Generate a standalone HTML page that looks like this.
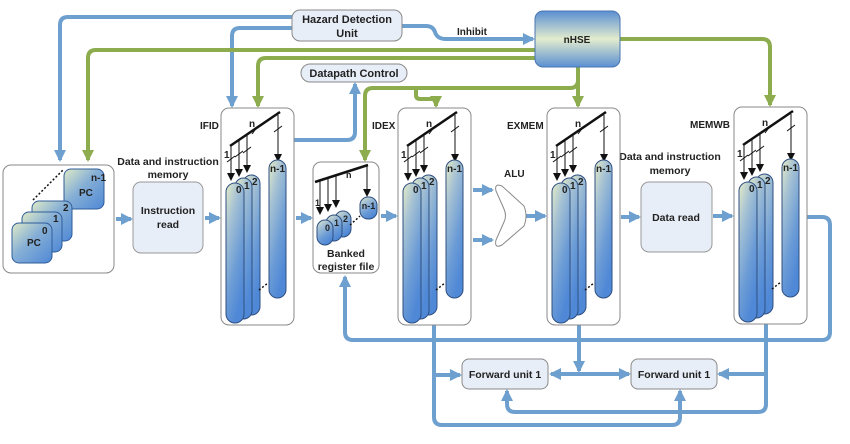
<!DOCTYPE html>
<html><head><meta charset="utf-8"><style>html,body{margin:0;padding:0;background:#fff}svg{display:block}text{font-family:"Liberation Sans",sans-serif;font-weight:bold;fill:#222}</style></head>
<body>
<svg width="850" height="444" viewBox="0 0 850 444" xmlns="http://www.w3.org/2000/svg">
<defs>
<linearGradient id="cyl" x1="0" y1="0" x2="0.5" y2="1"><stop offset="0" stop-color="#e6edc6"/><stop offset="0.3" stop-color="#a8c3d3"/><stop offset="0.7" stop-color="#6c9cd6"/><stop offset="1" stop-color="#4f88d6"/></linearGradient>
<linearGradient id="card" x1="0" y1="0" x2="1" y2="1"><stop offset="0" stop-color="#e0eac6"/><stop offset="0.45" stop-color="#86afd6"/><stop offset="1" stop-color="#4f88d6"/></linearGradient>
<linearGradient id="hse" x1="0" y1="0" x2="0" y2="1"><stop offset="0" stop-color="#5a8fd2"/><stop offset="0.5" stop-color="#e3ecce"/><stop offset="1" stop-color="#5a8fd2"/></linearGradient>
<marker id="ab" markerUnits="userSpaceOnUse" markerWidth="14" markerHeight="14" refX="10" refY="6" orient="auto"><path d="M0,0 L12,6 L0,12 Z" fill="#6ea0cf"/></marker>
<marker id="abs" markerUnits="userSpaceOnUse" markerWidth="14" markerHeight="14" refX="2" refY="6" orient="auto"><path d="M12,0 L0,6 L12,12 Z" fill="#6ea0cf"/></marker>
<marker id="ag" markerUnits="userSpaceOnUse" markerWidth="14" markerHeight="14" refX="10" refY="6" orient="auto"><path d="M0,0 L12,6 L0,12 Z" fill="#8cac4e"/></marker>
<marker id="ak" markerUnits="userSpaceOnUse" markerWidth="10" markerHeight="10" refX="7" refY="4" orient="auto"><path d="M0,0 L8,4 L0,8 Z" fill="#111"/></marker>
</defs>

<g fill="none" stroke-width="4" stroke-linejoin="round">
<g stroke="#6ea0cf">
<path d="M292,17 H68 Q60,17 60,25 V160" marker-end="url(#ab)"/>
<path d="M292,28 H240 Q232,28 232,36 V106" marker-end="url(#ab)"/>
<path d="M402,26 H426 Q433,26 435,32 Q437,39 446,39 H533" marker-end="url(#ab)"/>
<path d="M294,140 H347 Q355,140 355,132 V84" marker-end="url(#ab)"/>
<path d="M116,219 H131" marker-end="url(#ab)"/>
<path d="M205,218 H219" marker-end="url(#ab)"/>
<path d="M296,218 H311" marker-end="url(#ab)"/>
<path d="M381,216 H396" marker-end="url(#ab)"/>
<path d="M473,190 H492" marker-end="url(#ab)"/>
<path d="M473,240 H492" marker-end="url(#ab)"/>
<path d="M526,216 H545" marker-end="url(#ab)"/>
<path d="M621,217 H639" marker-end="url(#ab)"/>
<path d="M713,216 H732" marker-end="url(#ab)"/>
<path d="M807,217 H822 Q830,217 830,225 V332 Q830,340 822,340 H353 Q345,340 345,332 V277" marker-end="url(#ab)"/>
<path d="M434,325 V417 Q434,425 442,425 H672 Q680,425 680,417 V391" marker-end="url(#ab)"/>
<path d="M434,375 H460" marker-end="url(#ab)"/>
<path d="M579,325 V371" marker-end="url(#ab)"/>
<path d="M551,374 H629" marker-start="url(#abs)" marker-end="url(#ab)"/>
<path d="M766,323 V404 Q766,412 758,412 H515 Q507,412 507,404 V391" marker-end="url(#ab)"/>
<path d="M766,374 H719" marker-end="url(#ab)"/>
</g>
<g stroke="#8cac4e">
<path d="M535,50 H96 Q88,50 88,58 V160" marker-end="url(#ag)"/>
<path d="M535,58 H266 Q258,58 258,66 V106" marker-end="url(#ag)"/>
<path d="M578,67 V106" marker-end="url(#ag)"/>
<path d="M578,80 Q578,88 570,88 H373 Q365,88 365,96 V160" marker-end="url(#ag)"/>
<path d="M416,88 V95 Q416,99 420,99 H436 V106" marker-end="url(#ag)"/>
<path d="M620,39 H762 Q770,39 770,47 V105" marker-end="url(#ag)"/>
</g>
</g>

<rect x="292" y="10" width="110" height="31" rx="8" fill="#e8eef8" stroke="#888"/>
<text x="347" y="23" font-size="11" text-anchor="middle">Hazard Detection</text>
<text x="347" y="37" font-size="11" text-anchor="middle">Unit</text>
<text x="472" y="35" font-size="10" text-anchor="middle">Inhibit</text>
<rect x="301" y="64" width="106" height="18" rx="9" fill="#e8eef8" stroke="#888"/>
<text x="354" y="77" font-size="11" text-anchor="middle">Datapath Control</text>
<rect x="535" y="11" width="85" height="56" rx="8" fill="url(#hse)" stroke="#4a76b0"/>
<text x="577" y="43" font-size="10" text-anchor="middle">nHSE</text>

<rect x="3" y="165" width="111" height="108" rx="8" fill="#fff" stroke="#888"/>
<line x1="33" y1="200" x2="63" y2="170" stroke="#111" stroke-width="1.5" stroke-dasharray="2,2"/>
<rect x="64" y="169" width="40" height="40" rx="7" fill="url(#card)" stroke="#2f5d99"/>
<rect x="32" y="201" width="40" height="40" rx="7" fill="url(#card)" stroke="#2f5d99"/>
<rect x="22" y="212" width="40" height="40" rx="7" fill="url(#card)" stroke="#2f5d99"/>
<rect x="12" y="223" width="40" height="40" rx="7" fill="url(#card)" stroke="#2f5d99"/>
<text x="91" y="181" font-size="10">n-1</text><text x="79" y="196" font-size="10">PC</text>
<text x="63" y="211" font-size="10">2</text><text x="53" y="222" font-size="10">1</text>
<text x="42" y="234" font-size="10">0</text><text x="27" y="246" font-size="10">PC</text>

<text x="168" y="165" font-size="10.5" text-anchor="middle">Data and instruction</text>
<text x="168" y="178" font-size="10.5" text-anchor="middle">memory</text>
<rect x="133" y="182" width="70" height="71" rx="8" fill="#e8eef8" stroke="#999"/>
<text x="168" y="214" font-size="10.5" text-anchor="middle">Instruction</text>
<text x="168" y="228" font-size="10.5" text-anchor="middle">read</text>

<text x="670" y="160" font-size="10.5" text-anchor="middle">Data and instruction</text>
<text x="670" y="174" font-size="10.5" text-anchor="middle">memory</text>
<rect x="641" y="182" width="71" height="70" rx="8" fill="#e8eef8" stroke="#999"/>
<text x="676" y="221" font-size="10.5" text-anchor="middle">Data read</text>

<text x="200" y="129" font-size="10">IFID</text>
<text x="372" y="129" font-size="10">IDEX</text>
<text x="507" y="129" font-size="10">EXMEM</text>
<text x="690" y="128" font-size="10">MEMWB</text>
<text x="504" y="177" font-size="10">ALU</text>

<path d="M496,191 Q494,183 502,186 L524,206 Q528,216 524,226 L502,245 Q494,249 496,240 L504,222 Q507,216 504,209 Z" fill="#fff" stroke="#888"/>

<g>
<rect x="221" y="108" width="73" height="217" rx="8" fill="#fff" stroke="#888"/>
<line x1="230" y1="146" x2="280" y2="112" stroke="#111" stroke-width="2.5"/>
<g stroke="#111" stroke-width="1">
<line x1="231" y1="145" x2="231" y2="180" marker-end="url(#ak)"/>
<line x1="239" y1="140" x2="239" y2="176" marker-end="url(#ak)"/>
<line x1="247" y1="134" x2="247" y2="172" marker-end="url(#ak)"/>
<line x1="278" y1="115" x2="278" y2="161" marker-end="url(#ak)"/>
<line x1="227" y1="162" x2="235" y2="156"/><line x1="235" y1="157" x2="243" y2="151"/><line x1="243" y1="153" x2="251" y2="147"/><line x1="274" y1="132" x2="282" y2="126"/><line x1="252" y1="134" x2="258" y2="126"/>
</g>
<rect x="243" y="175" width="17" height="140" rx="8.5" fill="url(#cyl)" stroke="#2f4f80"/>
<rect x="235" y="178" width="17" height="141" rx="8.5" fill="url(#cyl)" stroke="#2f4f80"/>
<rect x="226" y="183" width="18" height="140" rx="9" fill="url(#cyl)" stroke="#2f4f80"/>
<rect x="269" y="160" width="17" height="138" rx="8.5" fill="url(#cyl)" stroke="#2f4f80"/>
<line x1="259" y1="290" x2="268" y2="283" stroke="#111" stroke-width="1.5" stroke-dasharray="2,2"/>
<text x="249" y="127" font-size="10">n</text><text x="224" y="158" font-size="10">1</text>
<text x="236" y="193" font-size="10">0</text><text x="244" y="189" font-size="10">1</text><text x="252" y="185" font-size="10">2</text>
<text x="277.5" y="172" font-size="10" text-anchor="middle">n-1</text>
</g>
<g transform="translate(177,0)">
<rect x="221" y="108" width="73" height="217" rx="8" fill="#fff" stroke="#888"/>
<line x1="230" y1="146" x2="280" y2="112" stroke="#111" stroke-width="2.5"/>
<g stroke="#111" stroke-width="1">
<line x1="231" y1="145" x2="231" y2="180" marker-end="url(#ak)"/>
<line x1="239" y1="140" x2="239" y2="176" marker-end="url(#ak)"/>
<line x1="247" y1="134" x2="247" y2="172" marker-end="url(#ak)"/>
<line x1="278" y1="115" x2="278" y2="161" marker-end="url(#ak)"/>
<line x1="227" y1="162" x2="235" y2="156"/><line x1="235" y1="157" x2="243" y2="151"/><line x1="243" y1="153" x2="251" y2="147"/><line x1="274" y1="132" x2="282" y2="126"/><line x1="252" y1="134" x2="258" y2="126"/>
</g>
<rect x="243" y="175" width="17" height="140" rx="8.5" fill="url(#cyl)" stroke="#2f4f80"/>
<rect x="235" y="178" width="17" height="141" rx="8.5" fill="url(#cyl)" stroke="#2f4f80"/>
<rect x="226" y="183" width="18" height="140" rx="9" fill="url(#cyl)" stroke="#2f4f80"/>
<rect x="269" y="160" width="17" height="138" rx="8.5" fill="url(#cyl)" stroke="#2f4f80"/>
<line x1="259" y1="290" x2="268" y2="283" stroke="#111" stroke-width="1.5" stroke-dasharray="2,2"/>
<text x="249" y="127" font-size="10">n</text><text x="224" y="158" font-size="10">1</text>
<text x="236" y="193" font-size="10">0</text><text x="244" y="189" font-size="10">1</text><text x="252" y="185" font-size="10">2</text>
<text x="277.5" y="172" font-size="10" text-anchor="middle">n-1</text>
</g>
<g transform="translate(326,0)">
<rect x="221" y="108" width="73" height="217" rx="8" fill="#fff" stroke="#888"/>
<line x1="230" y1="146" x2="280" y2="112" stroke="#111" stroke-width="2.5"/>
<g stroke="#111" stroke-width="1">
<line x1="231" y1="145" x2="231" y2="180" marker-end="url(#ak)"/>
<line x1="239" y1="140" x2="239" y2="176" marker-end="url(#ak)"/>
<line x1="247" y1="134" x2="247" y2="172" marker-end="url(#ak)"/>
<line x1="278" y1="115" x2="278" y2="161" marker-end="url(#ak)"/>
<line x1="227" y1="162" x2="235" y2="156"/><line x1="235" y1="157" x2="243" y2="151"/><line x1="243" y1="153" x2="251" y2="147"/><line x1="274" y1="132" x2="282" y2="126"/><line x1="252" y1="134" x2="258" y2="126"/>
</g>
<rect x="243" y="175" width="17" height="140" rx="8.5" fill="url(#cyl)" stroke="#2f4f80"/>
<rect x="235" y="178" width="17" height="141" rx="8.5" fill="url(#cyl)" stroke="#2f4f80"/>
<rect x="226" y="183" width="18" height="140" rx="9" fill="url(#cyl)" stroke="#2f4f80"/>
<rect x="269" y="160" width="17" height="138" rx="8.5" fill="url(#cyl)" stroke="#2f4f80"/>
<line x1="259" y1="290" x2="268" y2="283" stroke="#111" stroke-width="1.5" stroke-dasharray="2,2"/>
<text x="249" y="127" font-size="10">n</text><text x="224" y="158" font-size="10">1</text>
<text x="236" y="193" font-size="10">0</text><text x="244" y="189" font-size="10">1</text><text x="252" y="185" font-size="10">2</text>
<text x="277.5" y="172" font-size="10" text-anchor="middle">n-1</text>
</g>
<g transform="translate(513,-1)">
<rect x="221" y="108" width="73" height="217" rx="8" fill="#fff" stroke="#888"/>
<line x1="230" y1="146" x2="280" y2="112" stroke="#111" stroke-width="2.5"/>
<g stroke="#111" stroke-width="1">
<line x1="231" y1="145" x2="231" y2="180" marker-end="url(#ak)"/>
<line x1="239" y1="140" x2="239" y2="176" marker-end="url(#ak)"/>
<line x1="247" y1="134" x2="247" y2="172" marker-end="url(#ak)"/>
<line x1="278" y1="115" x2="278" y2="161" marker-end="url(#ak)"/>
<line x1="227" y1="162" x2="235" y2="156"/><line x1="235" y1="157" x2="243" y2="151"/><line x1="243" y1="153" x2="251" y2="147"/><line x1="274" y1="132" x2="282" y2="126"/><line x1="252" y1="134" x2="258" y2="126"/>
</g>
<rect x="243" y="175" width="17" height="140" rx="8.5" fill="url(#cyl)" stroke="#2f4f80"/>
<rect x="235" y="178" width="17" height="141" rx="8.5" fill="url(#cyl)" stroke="#2f4f80"/>
<rect x="226" y="183" width="18" height="140" rx="9" fill="url(#cyl)" stroke="#2f4f80"/>
<rect x="269" y="160" width="17" height="138" rx="8.5" fill="url(#cyl)" stroke="#2f4f80"/>
<line x1="259" y1="290" x2="268" y2="283" stroke="#111" stroke-width="1.5" stroke-dasharray="2,2"/>
<text x="249" y="127" font-size="10">n</text><text x="224" y="158" font-size="10">1</text>
<text x="236" y="193" font-size="10">0</text><text x="244" y="189" font-size="10">1</text><text x="252" y="185" font-size="10">2</text>
<text x="277.5" y="172" font-size="10" text-anchor="middle">n-1</text>
</g>

<rect x="313" y="162" width="66" height="111" rx="8" fill="#fff" stroke="#888"/>
<line x1="315" y1="182" x2="368" y2="165" stroke="#111" stroke-width="2.5"/>
<g stroke="#111" stroke-width="1">
<line x1="320" y1="181" x2="320" y2="214" marker-end="url(#ak)"/>
<line x1="328" y1="178" x2="328" y2="211" marker-end="url(#ak)"/>
<line x1="336" y1="176" x2="336" y2="207" marker-end="url(#ak)"/>
<line x1="367" y1="166" x2="367" y2="196" marker-end="url(#ak)"/>
</g>
<rect x="335" y="211" width="16" height="26" rx="8" fill="url(#cyl)" stroke="#2f4f80"/>
<rect x="326" y="215" width="16" height="26" rx="8" fill="url(#cyl)" stroke="#2f4f80"/>
<rect x="317" y="220" width="16" height="25" rx="8" fill="url(#cyl)" stroke="#2f4f80"/>
<rect x="360" y="197" width="17" height="22" rx="8" fill="url(#cyl)" stroke="#2f4f80"/>
<line x1="350" y1="225" x2="360" y2="216" stroke="#111" stroke-width="1.5" stroke-dasharray="2,2"/>
<text x="346" y="178" font-size="9">n</text><text x="315" y="206" font-size="9">1</text>
<text x="325" y="231" font-size="9">0</text><text x="334" y="226" font-size="9">1</text><text x="343" y="222" font-size="9">2</text>
<text x="368.5" y="209" font-size="9" text-anchor="middle">n-1</text>
<text x="346" y="257" font-size="10.5" text-anchor="middle">Banked</text>
<text x="346" y="270" font-size="10.5" text-anchor="middle">register file</text>

<rect x="462" y="359" width="86" height="30" rx="7" fill="#e8eef8" stroke="#888"/>
<text x="505" y="378" font-size="10.5" text-anchor="middle">Forward unit 1</text>
<rect x="631" y="359" width="86" height="30" rx="7" fill="#e8eef8" stroke="#888"/>
<text x="674" y="378" font-size="10.5" text-anchor="middle">Forward unit 1</text>
</svg>
</body></html>
